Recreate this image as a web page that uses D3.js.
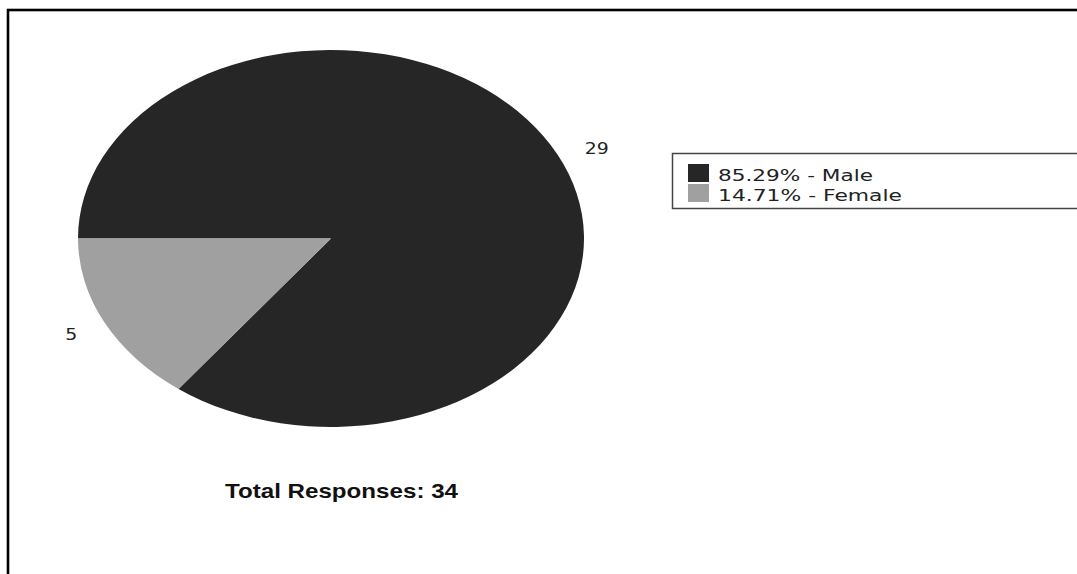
<!DOCTYPE html>
<html>
<head>
<meta charset="utf-8">
<script src="https://cdn.jsdelivr.net/npm/d3@7/dist/d3.min.js"></script>
<style>
  html, body { margin: 0; padding: 0; background: #fff; }
  svg { display: block; }
</style>
</head>
<body>
<svg id="chart" width="1077" height="574"></svg>
<script>
// Survey responses by gender
const categories = ["Male", "Female"];
const counts = [29, 5];
const percentLabels = ["85.29%", "14.71%"];
const colors = ["#262626", "#a0a0a0"];
const totalLabel = "Total Responses: 34";

const svg = d3.select("#chart");
const W = 1077, H = 574;

// outer frame (runs past the right and bottom edges)
svg.append("rect")
  .attr("x", 8).attr("y", 10)
  .attr("width", W + 20).attr("height", H + 20)
  .attr("fill", "none").attr("stroke", "#000").attr("stroke-width", 2.6);

// pie geometry: a circle of radius ry stretched horizontally into an ellipse
const cx = 331, cy = 238.5, rx = 253, ry = 188.5;
const sx = rx / ry;

// male slice starts at 9 o'clock and runs clockwise
const pie = d3.pie().sort(null).value(d => d)
  .startAngle(-Math.PI / 2).endAngle(1.5 * Math.PI);
const arcs = pie(counts);
const arc = d3.arc().innerRadius(0).outerRadius(ry);

const g = svg.append("g")
  .attr("transform", `translate(${cx},${cy}) scale(${sx},1)`);
g.selectAll("path").data(arcs).enter().append("path")
  .attr("d", arc)
  .attr("fill", (d, i) => colors[i]);

// value labels just outside the rim
const labelArc = d3.arc().innerRadius(ry * 1.12).outerRadius(ry * 1.12);
svg.selectAll("text.val").data(arcs).enter().append("text")
  .attr("class", "val")
  .each(function(d) {
    const [lx, ly] = labelArc.centroid(d);
    const right = lx > 0;
    d3.select(this)
      .attr("x", cx + lx * sx)
      .attr("y", cy + ly + (right ? 4 : 2))
      .attr("text-anchor", right ? "start" : "end")
      .attr("dominant-baseline", "central");
  })
  .attr("font-family", "DejaVu Sans, Verdana, sans-serif")
  .attr("font-size", 16)
  .attr("fill", "#222")
  .attr("textLength", d => String(d.data).length * 12)
  .attr("lengthAdjust", "spacingAndGlyphs")
  .text(d => d.data);

// legend
const legend = svg.append("g");
legend.append("rect")
  .attr("x", 672.5).attr("y", 153.5)
  .attr("width", 500).attr("height", 55)
  .attr("fill", "#fff").attr("stroke", "#444").attr("stroke-width", 1.5);

const rowY = d3.scaleBand().domain(categories).range([162, 204]).padding(0.1);
const items = legend.selectAll("g.item").data(categories).enter().append("g")
  .attr("class", "item");
items.append("rect")
  .attr("x", 688)
  .attr("y", d => rowY(d))
  .attr("width", 21)
  .attr("height", rowY.bandwidth())
  .attr("fill", (d, i) => colors[i]);
items.append("text")
  .attr("x", 718)
  .attr("y", d => rowY(d) + rowY.bandwidth() - 1)
  .attr("font-family", "DejaVu Sans, Verdana, sans-serif")
  .attr("font-size", 16.5)
  .attr("fill", "#222")
  .attr("textLength", (d, i) => i === 0 ? 155 : 184)
  .attr("lengthAdjust", "spacingAndGlyphs")
  .text((d, i) => `${percentLabels[i]} - ${d}`);

// total caption under the pie
svg.append("text")
  .attr("x", 225).attr("y", 498)
  .attr("font-family", "Liberation Sans, Arial, sans-serif")
  .attr("font-weight", "bold")
  .attr("font-size", 21)
  .attr("fill", "#111")
  .attr("textLength", 233)
  .attr("lengthAdjust", "spacingAndGlyphs")
  .text(totalLabel);
</script>
</body>
</html>
